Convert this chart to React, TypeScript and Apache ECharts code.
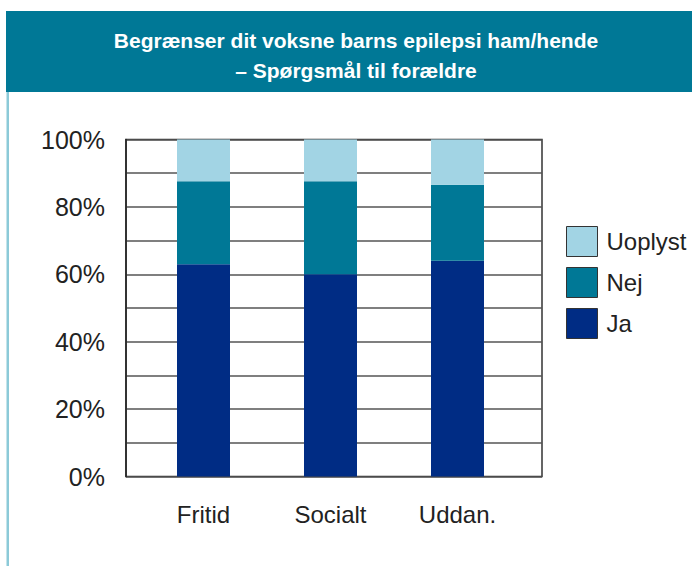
import React, { useEffect, useRef } from "react";
import * as echarts from "echarts";

const categories = ["Fritid", "Socialt", "Uddan."];
const ja = [63, 60, 64];
const nej = [24.6, 27.6, 22.6];
const uoplyst = [12.4, 12.4, 13.4];
const yTicks = [0, 20, 40, 60, 80, 100];
const titleLines = ["Begrænser dit voksne barns epilepsi ham/hende", "– Spørgsmål til forældre"];
const legendNames = ["Uoplyst", "Nej", "Ja"];

const COL_LIGHT = "#a2d4e4";
const COL_MID = "#007896";
const COL_DARK = "#002c84";
const FONT = "'Liberation Sans', Arial, Helvetica, sans-serif";

export default function App() {
  const ref = useRef<HTMLDivElement>(null);
  useEffect(() => {
    document.body.style.margin = "0";
    if (!ref.current) return;
    const chart = echarts.init(ref.current, null, { renderer: "svg" });
    const colors: Record<string, string> = { Ja: COL_DARK, Nej: COL_MID, Uoplyst: COL_LIGHT };
    const dataMap: Record<string, number[]> = { Ja: ja, Nej: nej, Uoplyst: uoplyst };
    const seriesOrder = ["Ja", "Nej", "Uoplyst"];
    chart.setOption({
      animation: false,
      textStyle: { fontFamily: FONT },
      graphic: [
        { type: "rect", shape: { x: 6, y: 11, width: 692, height: 81 }, style: { fill: "#007896" }, silent: true },
        { type: "rect", shape: { x: 6.5, y: 92, width: 2.5, height: 480 }, style: { fill: "#8ccad8" }, silent: true },
        {
          type: "text", x: 356, y: 40,
          style: { text: titleLines[0], fill: "#ffffff", font: `bold 21px ${FONT}`, textAlign: "center", textVerticalAlign: "middle" },
        },
        {
          type: "text", x: 356, y: 70,
          style: { text: titleLines[1], fill: "#ffffff", font: `bold 21px ${FONT}`, textAlign: "center", textVerticalAlign: "middle" },
        },
      ],
      legend: {
        data: legendNames,
        orient: "vertical",
        left: 561,
        top: 221,
        itemWidth: 31,
        itemHeight: 30,
        itemGap: 10,
        icon: "rect",
        itemStyle: { borderColor: "#333", borderWidth: 1 },
        textStyle: { fontSize: 24, color: "#222", fontFamily: FONT, padding: [0, 0, 0, 4] },
        selectedMode: false,
      },
      grid: [
        { left: 126, right: 150, top: 139.5, bottom: 89.5, show: true, borderColor: "#333", borderWidth: 1.5, backgroundColor: "transparent" },
        { left: 140, width: 381, top: 139.5, bottom: 89.5 },
      ],
      xAxis: [
        { type: "category", gridIndex: 0, data: categories, show: false },
        {
          type: "category", gridIndex: 1, data: categories,
          axisLine: { show: false }, axisTick: { show: false },
          axisLabel: { fontSize: 24, color: "#222", margin: 26, fontFamily: FONT },
        },
      ],
      yAxis: [
        {
          type: "value", gridIndex: 0, min: 0, max: 100, interval: 10,
          axisLine: { show: true, lineStyle: { color: "#222", width: 1.5 } },
          axisTick: { show: false },
          splitLine: { show: true, lineStyle: { color: "#555", width: 1.5 } },
          axisLabel: {
            fontSize: 25, color: "#222", margin: 21, fontFamily: FONT,
            formatter: (v: number) => (yTicks.includes(v) ? `${v}%` : ""),
          },
        },
        { type: "value", gridIndex: 1, min: 0, max: 100, show: false },
      ],
      series: seriesOrder.map((name) => ({
        name,
        type: "bar",
        stack: "total",
        xAxisIndex: 1,
        yAxisIndex: 1,
        barWidth: 53,
        data: dataMap[name],
        itemStyle: { color: colors[name] },
      })),
    });
    return () => chart.dispose();
  }, []);
  return <div ref={ref} style={{ width: 692, height: 566 }} />;
}
